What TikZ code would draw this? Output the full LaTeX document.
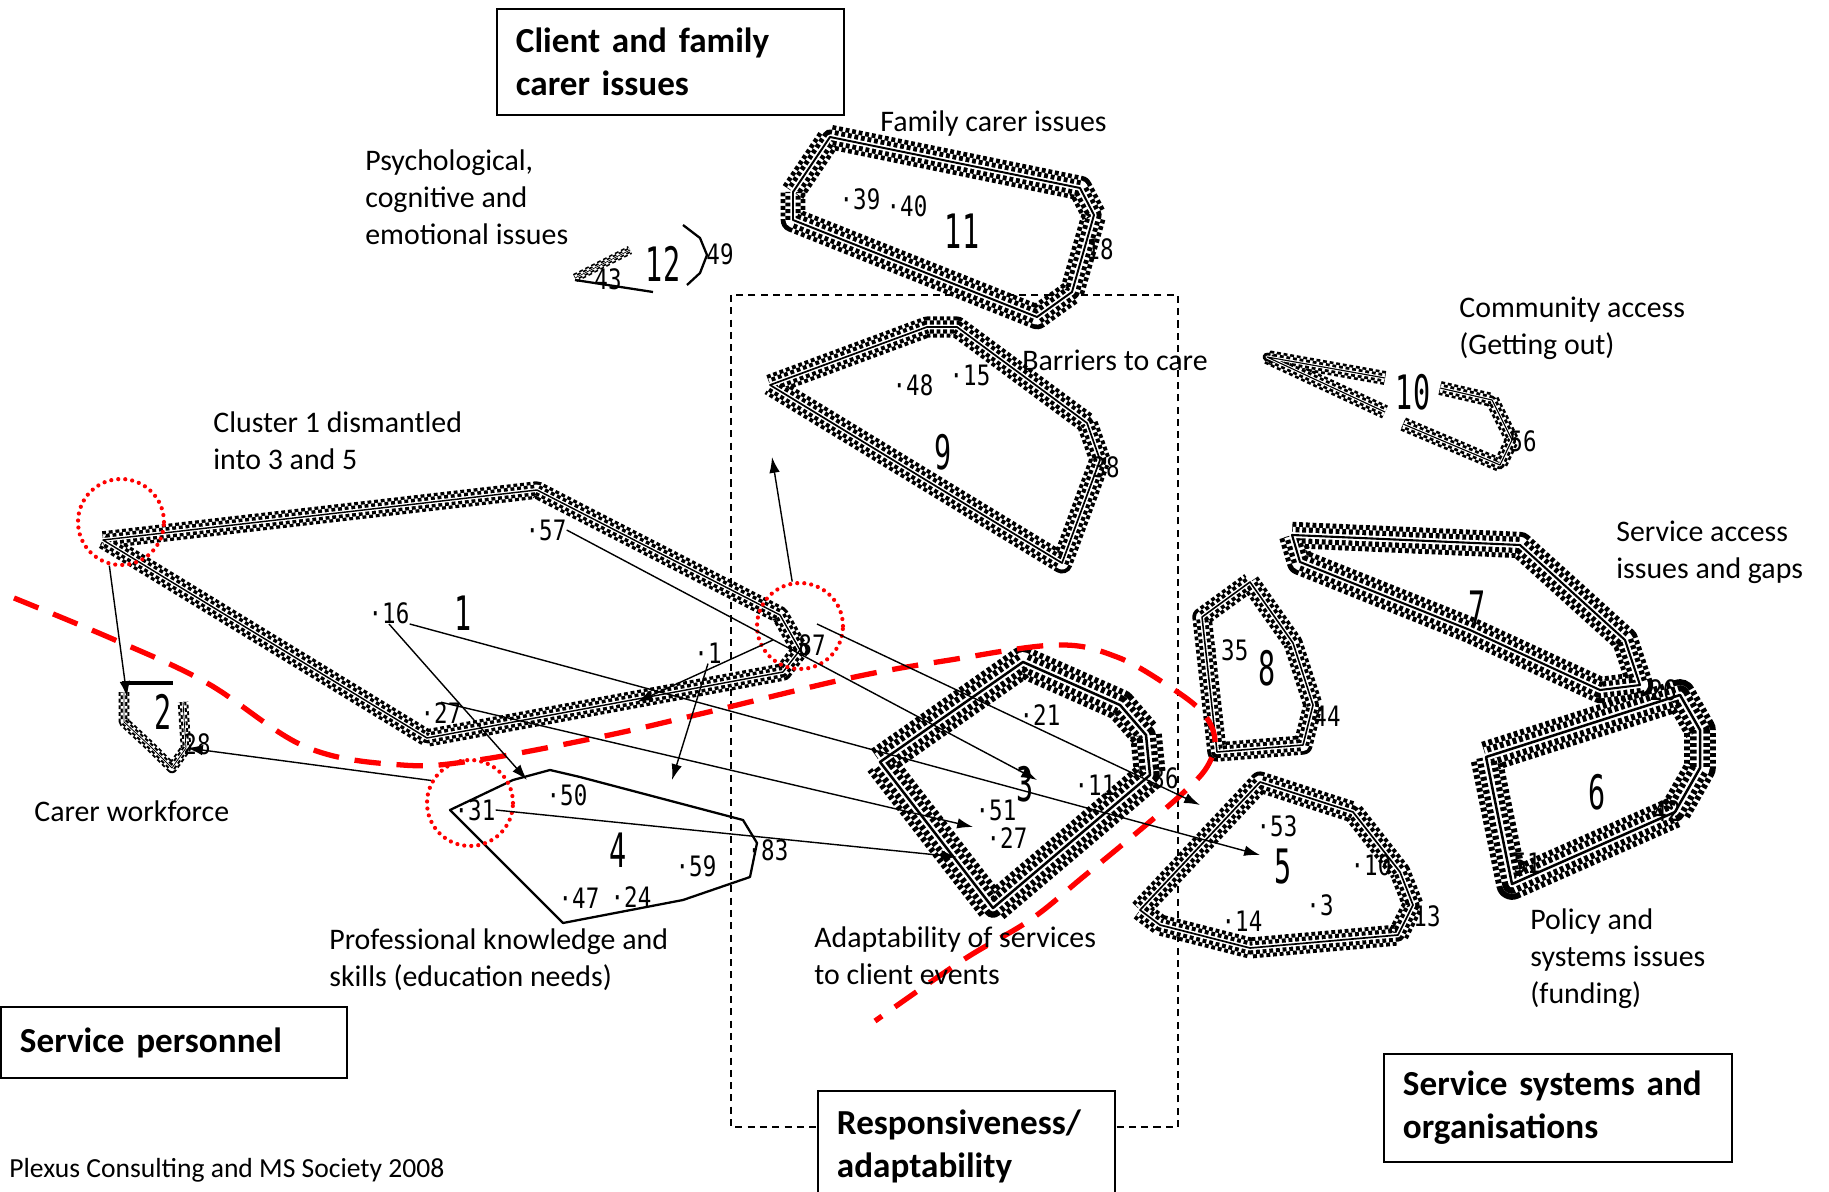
\documentclass[tikz,border=0pt]{standalone}
\usepackage{fontspec}
\setmainfont{Carlito}
\newfontfamily\pixbig[FakeStretch=0.6]{DejaVu Sans Mono}
\newfontfamily\pixtag[FakeStretch=0.8]{DejaVu Sans Mono}
\usetikzlibrary{arrows.meta,positioning,calc}

\newcommand{\lblfont}{\fontsize{17}{21}\selectfont}
\newcommand{\boxfont}{\bfseries\fontsize{20}{24.5}\selectfont}

\tikzset{
  ribbon/.style={line width=#1, line join=round, dash pattern=on 2.2pt off 1.6pt,
    postaction={draw=white, line width=0.62*#1, solid},
    postaction={draw=black, line width=0.62*#1, dash pattern=on 2.2pt off 1.6pt, dash phase=1.9pt},
    postaction={draw=white, line width=0.22*#1, solid},
    postaction={draw=black, line width=0.08*#1, solid}},
  ribbon/.default=10pt,
  thinclus/.style={line width=1.3pt, line join=round},
  cnum/.style={font=\pixbig\fontsize{27}{27}\selectfont, inner sep=0pt},
  ctag/.style={font=\pixtag\fontsize{16}{16}\selectfont, inner sep=0pt},
  lbl/.style={font=\lblfont, align=left, anchor=west, inner sep=0pt},
  titlebox/.style={draw, fill=white, line width=1.1pt, font=\boxfont, align=left,
    anchor=north west, inner xsep=3.8mm, inner ysep=0pt},
  hotspot/.style={circle, draw=red, line width=2.4pt, dash pattern=on 0pt off 4pt,
    line cap=round, minimum size=17.2mm, inner sep=0pt},
  linkarrow/.style={-{Latex[length=9pt,width=6pt]}, line width=0.8pt},
  cutline/.style={red, line width=3pt, dash pattern=on 15pt off 9pt},
  grpframe/.style={line width=0.8pt, dash pattern=on 4pt off 3pt}
}

\begin{document}
\begin{tikzpicture}[x=0.02cm, y=-0.02cm]
  \useasboundingbox (0,0) rectangle (1829,1192);
  \draw[grpframe] (731,295) rectangle (1178,1127); % responsiveness group

  % cluster outlines
  \draw[ribbon=10pt] (103,540) -- (537,490) -- (780,615) -- (800,650) -- (783,672) -- (427,738) -- cycle; % 1
  \draw[thinclus, line width=2pt] (122,683) -- (173,683); % 2
  \draw[ribbon=6pt] (124,692) -- (124,722) -- (150,746) -- (172,768) -- (186,748) -- (183,702);
  \draw[thinclus] (450,810) -- (513,780) -- (550,770) -- (580,777) -- (743,820) -- (757,843)
    -- (750,877) -- (683,900) -- (563,923) -- cycle; % 4
  \draw[ribbon=12pt] (770,385) -- (927,327) -- (957,327) -- (1087,423) -- (1100,460) -- (1062,563) -- cycle; % 9
  \draw[ribbon=14pt] (793,192) -- (830,137) -- (1080,188) -- (1094,215) -- (1072,292) -- (1037,317) -- (793,220) -- cycle; % 11
  \draw[ribbon=5pt] (575,278) -- (630,250); % 12
  \draw[thinclus] (575,280) -- (653,292);
  \draw[thinclus] (683,225) -- (700,238) -- (707,255) -- (700,273) -- (687,285);
  \draw[ribbon=8pt] (1385,378) -- (1267,357) -- (1385,412); % 10
  \draw[ribbon=8pt] (1440,388) -- (1492,400) -- (1512,440) -- (1500,465) -- (1403,424);
  \draw[ribbon=18pt] (880,762) -- (1023,662) -- (1120,705) -- (1146,735) -- (1150,775) -- (993,908) -- cycle; % 3
  \draw[ribbon=11pt] (1250,582) -- (1293,643) -- (1313,705) -- (1303,745) -- (1217,752) -- (1202,617) -- cycle; % 8
  \draw[ribbon=12pt] (1140,910) -- (1260,782) -- (1353,812) -- (1400,872) -- (1413,905) -- (1398,935)
    -- (1250,948) -- (1160,925) -- cycle; % 5
  \draw[ribbon=15pt] (1292,535) -- (1520,545) -- (1625,640) -- (1640,685) -- (1600,690) -- (1470,630)
    -- (1300,562) -- cycle; % 7
  \draw[ribbon=18pt] (1486,757) -- (1680,695) -- (1700,730) -- (1700,768) -- (1675,812) -- (1512,884) -- cycle; % 6

  % cluster numbers and statements
  \node[cnum] (n1) at (463,613) {1};
  \node[ctag] (s16) at (389,613) {·16};
  \node[ctag] (s57) at (546,530) {·57};
  \node[ctag] (s1) at (708,653) {·1};
  \node[ctag] (s27) at (441,713) {·27};
  \node[ctag] (s87) at (812,645) {87};
  \node[cnum] (n2) at (163,712) {2};
  \node[ctag] (s28) at (197,744) {28};
  \node[cnum] (n4) at (618,850) {4};
  \node[ctag] (s31) at (475,810) {·31};
  \node[ctag] (s50) at (567,795) {·50};
  \node[ctag] (s59) at (696,866) {·59};
  \node[ctag] (s47) at (579,898) {·47};
  \node[ctag] (s24) at (631,897) {·24};
  \node[ctag] (s83) at (768,850) {·83};
  \node[cnum] (n9) at (943,452) {9};
  \node[ctag] (s48) at (913,385) {·48};
  \node[ctag] (s15) at (970,375) {·15};
  \node[ctag] (s38) at (1106,467) {38};
  \node[cnum] (n11) at (962,231) {11};
  \node[ctag] (s39) at (860,199) {·39};
  \node[ctag] (s40) at (907,206) {·40};
  \node[ctag] (s18) at (1100,249) {18};
  \node[cnum] (n12) at (663,264) {12};
  \node[ctag] (s49) at (720,254) {49};
  \node[ctag] (s43) at (608,279) {43};
  \node[cnum] (n10) at (1413,392) {10};
  \node[ctag] (s56) at (1523,441) {56};
  \node[cnum] (n3) at (1025,784) {3};
  \node[ctag] (s21) at (1040,715) {·21};
  \node[ctag] (s11) at (1095,785) {·11};
  \node[ctag] (s36) at (1165,778) {36};
  \node[ctag] (s51) at (996,810) {·51};
  \node[ctag] (s27c) at (1007,838) {·27};
  \node[cnum] (n8) at (1267,668) {8};
  \node[ctag] (s35) at (1228,650) {·35};
  \node[ctag] (s44) at (1327,716) {44};
  \node[cnum] (n5) at (1283,867) {5};
  \node[ctag] (s53) at (1277,826) {·53};
  \node[ctag] (s10) at (1371,865) {·10};
  \node[ctag] (s3) at (1320,905) {·3};
  \node[ctag] (s14) at (1242,921) {·14};
  \node[ctag] (s13) at (1427,916) {13};
  \node[cnum] (n7) at (1477,608) {7};
  \node[cnum] (n6) at (1597,792) {6};
  \node[ctag] (s26) at (1663,690) {26};
  \node[ctag] (s42) at (1667,811) {42};
  \node[ctag] (s51b) at (1527,863) {51};

  % boundary between groups
  \draw[cutline] plot[smooth, tension=0.6] coordinates {(14,598) (115,640) (207,683) (306,747) (402,765)
    (478,760) (600,737) (700,714) (850,678) (950,660) (1057,645) (1117,657) (1170,687) (1203,713)
    (1215,740) (1207,767) (1183,793) (1140,830) (1083,877) (1030,920) (963,960) (875,1021)};

  % dismantled statements
  \node[hotspot] (r1) at (121,522) {};
  \node[hotspot] (r87) at (800,626) {};
  \node[hotspot] (r31) at (470,803) {};

  \coordinate (in2a) at (127,697);
  \coordinate (in2b) at (187,748);
  \coordinate (in4a) at (527,780);
  \coordinate (in4b) at (672,780);
  \coordinate (in1) at (637,702);
  \coordinate (in9) at (772,457);
  \coordinate (in3a) at (1037,780);
  \coordinate (in3b) at (973,827);
  \coordinate (in3c) at (957,857);
  \coordinate (in5a) at (1200,805);
  \coordinate (in5b) at (1260,855);
  \coordinate (o87a) at (773,640);
  \coordinate (o87b) at (817,624);

  \draw[linkarrow] (r1.255) -- (in2a);
  \draw[linkarrow] (r31.150) -- (in2b);
  \draw[linkarrow] (s16.south) -- (in4a);
  \draw[linkarrow] (s16.south east) -- (in5b);
  \draw[linkarrow] (s57.east) -- (in3a);
  \draw[linkarrow] (s1.south) -- (in4b);
  \draw[linkarrow] (o87a) -- (in1);
  \draw[linkarrow] (r87.100) -- (in9);
  \draw[linkarrow] (o87b) -- (in5a);
  \draw[linkarrow] (s27.north) -- (in3b);
  \draw[linkarrow] (s31.east) -- (in3c);

  % cluster names
  \node[lbl] (lfam) at (880,124) {Family carer issues};
  \node[lbl] (lpsy) at (365,197) {Psychological,\\cognitive and\\emotional issues};
  \node[lbl] (lbar) at (1022,360) {Barriers to care};
  \node[lbl] (lcom) at (1459,328) {Community access\\(Getting out)};
  \node[lbl] (lclu) at (213,441) {Cluster 1 dismantled\\into 3 and 5};
  \node[lbl] (lsac) at (1616,552) {Service access\\issues and gaps};
  \node[lbl] (lcar) at (34,811) {Carer workforce};
  \node[lbl] (lpro) at (329,960) {Professional knowledge and\\skills (education needs)};
  \node[lbl] (lada) at (814,956) {Adaptability of services\\to client events};
  \node[lbl] (lpol) at (1530,959) {Policy and\\systems issues\\(funding)};
  \node[lbl, font=\fontsize{15.7}{19}\selectfont] (credit) at (9,1170) {Plexus Consulting and MS Society 2008};

  % group titles
  \node[titlebox, text width=61.8mm, minimum height=21.2mm] (bclient) at (496,8) {Client and family\\carer issues};
  \node[titlebox, text width=61.6mm, minimum height=14.2mm] (bstaff) at (0,1006) {Service personnel};
  \node[titlebox, text width=51.8mm, minimum height=22mm] (bresp) at (817,1090) {Responsiveness/\\adaptability};
  \node[titlebox, text width=62mm, minimum height=21.6mm] (bsys) at (1383,1053) {Service systems and\\organisations};
\end{tikzpicture}
\end{document}
